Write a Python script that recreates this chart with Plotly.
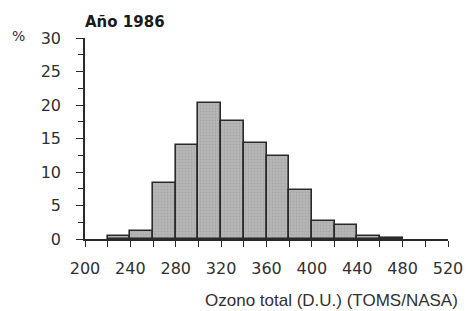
import plotly.graph_objects as go

bin_starts = [220, 240, 260, 280, 300, 320, 340, 360, 380, 400, 420, 440, 460]
percent = [0.4, 1.25, 8.3, 14.1, 20.3, 17.6, 14.4, 12.4, 7.3, 2.75, 2.15, 0.45, 0.1]
bin_width = 20
x_ticks = [200, 240, 280, 320, 360, 400, 440, 480, 520]
y_ticks = [0, 5, 10, 15, 20, 25, 30]
title = "Año 1986"
x_title = "Ozono total (D.U.) (TOMS/NASA)"
y_unit = "%"

centers = [s + bin_width / 2 for s in bin_starts]

W, H = 469, 311
L, R, T, B = 85, 21, 38, 72
pw, ph = W - L - R, H - T - B

def px(x):
    return (x - L) / pw

def py(y):
    return (H - B - y) / ph

fig = go.Figure(go.Bar(
    x=centers, y=percent, width=[bin_width] * len(centers),
    marker=dict(color="#b2b2b2",
                line=dict(color="#2a2a2a", width=1.6),
                pattern=dict(shape=".", fgcolor="#9a9a9a", bgcolor="#b6b6b6", size=3, solidity=0.3)),
    showlegend=False,
))

tickfont = dict(family="DejaVu Sans", size=16, color="#303030")

fig.update_layout(
    width=W, height=H,
    margin=dict(l=L, r=R, t=T, b=B, pad=0, autoexpand=False),
    paper_bgcolor="white", plot_bgcolor="white",
    bargap=0,
    xaxis=dict(range=[200, 520], tickvals=x_ticks, ticktext=[str(v) for v in x_ticks],
               showgrid=False, zeroline=False, showline=True, linecolor="#2a2a2a", linewidth=1.6,
               ticks="outside", ticklen=6, tickwidth=1.4, tickcolor="#2a2a2a",
               minor=dict(dtick=20, tick0=200, ticks="outside", ticklen=6, tickwidth=1.4, tickcolor="#2a2a2a"),
               tickfont=tickfont, ticklabelstandoff=8, automargin=False),
    yaxis=dict(range=[0, 30], tickvals=y_ticks, ticktext=[str(v) for v in y_ticks],
               showgrid=False, zeroline=False, showline=True, linecolor="#2a2a2a", linewidth=1.6,
               ticks="outside", ticklen=7, tickwidth=1.4, tickcolor="#2a2a2a",
               minor=dict(dtick=2.5, tick0=0, ticks="outside", ticklen=5, tickwidth=1.2, tickcolor="#2a2a2a"),
               tickfont=tickfont, ticklabelstandoff=12, automargin=False),
    annotations=[
        dict(text="<b>" + title + "</b>", xref="paper", yref="paper", x=px(83), y=py(22),
             xanchor="left", yanchor="middle", showarrow=False,
             font=dict(family="DejaVu Sans", size=15, color="#1a1a1a")),
        dict(text=y_unit, xref="paper", yref="paper", x=px(18), y=py(36),
             xanchor="center", yanchor="middle", showarrow=False,
             font=dict(family="DejaVu Sans", size=14, color="#303030")),
        dict(text=x_title, xref="paper", yref="paper", x=px(460), y=py(300),
             xanchor="right", yanchor="middle", showarrow=False,
             font=dict(family="Liberation Sans", size=17, color="#303030")),
    ],
)

fig.write_html("out.html", config={"displayModeBar": False},
               post_script="document.body.style.margin='0';document.body.style.overflow='hidden';")
